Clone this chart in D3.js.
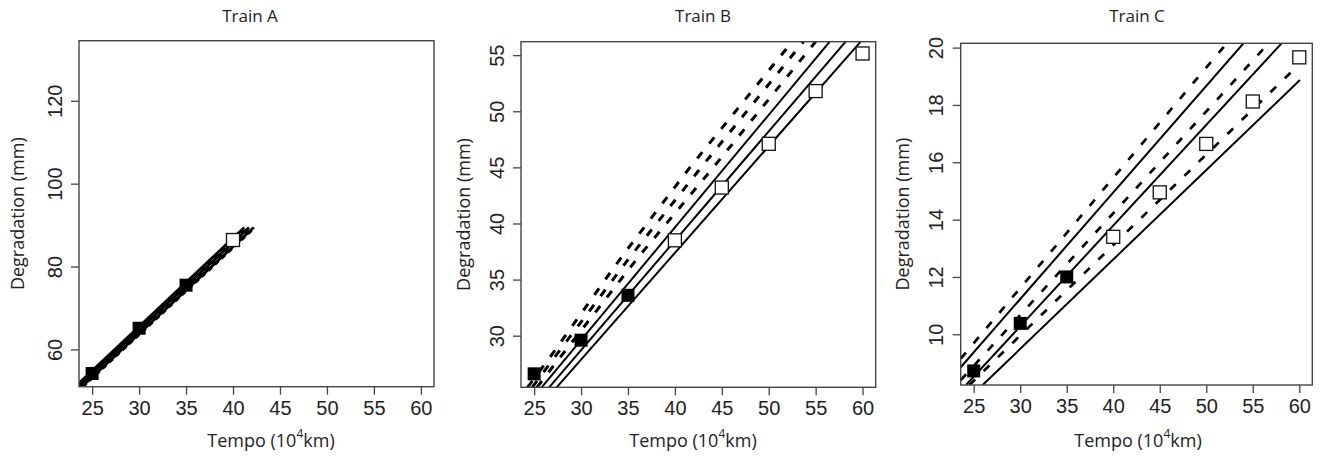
<!DOCTYPE html>
<html>
<head>
<meta charset="utf-8">
<script src="https://cdn.jsdelivr.net/npm/d3@7"></script>
<style>
  html, body { margin: 0; padding: 0; background: #fff; }
  svg { display: block; }
</style>
</head>
<body>
<svg id="svg" width="1325" height="459"></svg>
<script>
// shared x axis
const xTicks = [25, 30, 35, 40, 45, 50, 55, 60];
const xDomain = [23.6, 61.4];

// Train A
const trainAYTicks = [60, 80, 100, 120];
const trainAYDomain = [51, 134.5];
const trainAObserved = [[25, 54.2], [30, 65.1], [35, 75.5]];
const trainAPredicted = [[40, 86.4]];
const trainASolid = [
  [[23.2, 51], [41.2, 89.4]],
  [[23.5, 51], [41.7, 89.4]],
  [[23.9, 51], [42.2, 89.4]]
];
const trainADashed = [
  [[23.3, 51], [41.4, 89.4]],
  [[23.7, 51], [41.9, 89.4]],
  [[24.0, 51], [42.3, 89.4]]
];

// Train B
const trainBYTicks = [30, 35, 40, 45, 50, 55];
const trainBYDomain = [25.4, 56.2];
const trainBObserved = [[25, 26.6], [30, 29.6], [35, 33.6]];
const trainBPredicted = [[40, 38.5], [45, 43.2], [50, 47.1], [55, 51.8], [60, 55.15]];
const trainBSolid = [
  [[25.8, 25.4], [56.5, 56.2]],
  [[26.6, 25.4], [58.2, 56.2]],
  [[27.4, 25.4], [59.8, 56.2]]
];
const trainBDashed = [
  [[24.3, 25.4], [26.7, 28.1], [34.3, 37.0], [41.6, 45.0], [52.5, 56.2]],
  [[24.8, 25.4], [27.2, 28.1], [35.2, 37.0], [42.8, 45.0], [53.7, 56.2]],
  [[25.3, 25.4], [27.8, 28.1], [36.1, 37.0], [44.1, 45.0], [55.0, 56.2]]
];

// Train C
const trainCYTicks = [10, 12, 14, 16, 18, 20];
const trainCYDomain = [8.23, 20.15];
const trainCObserved = [[25, 8.72], [30, 10.38], [35, 12.0]];
const trainCPredicted = [[40, 13.4], [45, 14.95], [50, 16.64], [55, 18.12], [60, 19.66]];
const trainCSolid = [
  [[23.6, 8.85], [54.0, 20.15]],
  [[24.17, 8.23], [58.1, 20.15]],
  [[25.96, 8.23], [60.07, 18.87]]
];
const trainCDashed = [
  [[23.6, 9.15], [52.2, 20.15]],
  [[23.6, 8.4], [56.7, 20.15]],
  [[24.53, 8.23], [59.2, 19.17]]
];

const panels = [
  { title: "Train A", box: [79, 40.7, 355, 346], yDomain: trainAYDomain, yTicks: trainAYTicks,
    observed: trainAObserved, predicted: trainAPredicted, solid: trainASolid, dashed: trainADashed,
    lineWidth: 2.8, dashWidth: 3, dash: "5,4", titleX: 250, xLabelX: 271, yLabelOff: 62 },
  { title: "Train B", box: [521, 41.7, 354.7, 345.6], yDomain: trainBYDomain, yTicks: trainBYTicks,
    observed: trainBObserved, predicted: trainBPredicted, solid: trainBSolid, dashed: trainBDashed,
    lineWidth: 2, dashWidth: 3, dash: "8,11", titleX: 703, xLabelX: 693, yLabelOff: 58.5 },
  { title: "Train C", box: [960.7, 43.3, 351.6, 341.7], yDomain: trainCYDomain, yTicks: trainCYTicks,
    observed: trainCObserved, predicted: trainCPredicted, solid: trainCSolid, dashed: trainCDashed,
    lineWidth: 2, dashWidth: 2.7, dash: "8,12", titleX: 1137, xLabelX: 1138, yLabelOff: 58.3 }
];

const tickFont = "'Liberation Sans', Arial, sans-serif";
const labelFont = "'Open Sans', sans-serif";
const svg = d3.select("#svg");

panels.forEach((p, i) => {
  const [left, top, w, h] = p.box;
  const x = d3.scaleLinear().domain(xDomain).range([left, left + w]);
  const y = d3.scaleLinear().domain(p.yDomain).range([top + h, top]);
  const g = svg.append("g");

  const clipId = "clip" + i;
  svg.append("defs").append("clipPath").attr("id", clipId)
    .append("rect").attr("x", left).attr("y", top).attr("width", w).attr("height", h);

  const line = d3.line().x((d) => x(d[0])).y((d) => y(d[1]));
  const plot = g.append("g").attr("clip-path", `url(#${clipId})`);

  plot.selectAll("path.solid")
    .data(p.solid)
    .enter()
    .append("path")
    .attr("class", "solid")
    .attr("d", line)
    .attr("fill", "none")
    .attr("stroke", "#000")
    .attr("stroke-width", p.lineWidth);

  plot.selectAll("path.dashed")
    .data(p.dashed)
    .enter()
    .append("path")
    .attr("class", "dashed")
    .attr("d", line)
    .attr("fill", "none")
    .attr("stroke", "#000")
    .attr("stroke-width", p.dashWidth)
    .attr("stroke-dasharray", p.dash);

  const sq = 13;
  plot.selectAll("rect.obs")
    .data(p.observed)
    .enter()
    .append("rect")
    .attr("class", "obs")
    .attr("x", (d) => x(d[0]) - sq / 2)
    .attr("y", (d) => y(d[1]) - sq / 2)
    .attr("width", sq)
    .attr("height", sq)
    .attr("fill", "#000");

  plot.selectAll("rect.pred")
    .data(p.predicted)
    .enter()
    .append("rect")
    .attr("class", "pred")
    .attr("x", (d) => x(d[0]) - sq / 2)
    .attr("y", (d) => y(d[1]) - sq / 2)
    .attr("width", sq)
    .attr("height", sq)
    .attr("fill", "#fff")
    .attr("stroke", "#111")
    .attr("stroke-width", 1.3);

  // box
  g.append("rect")
    .attr("x", left).attr("y", top).attr("width", w).attr("height", h)
    .attr("fill", "none").attr("stroke", "#444").attr("stroke-width", 1.4);

  // x axis
  const xAxis = g.append("g")
    .attr("transform", `translate(0,${top + h})`)
    .call(d3.axisBottom(x).tickValues(xTicks).tickSize(8).tickFormat(d3.format("d")))
    .attr("font-family", tickFont)
    .attr("font-size", 20);
  xAxis.select(".domain").remove();
  xAxis.selectAll("line").attr("stroke", "#444").attr("stroke-width", 1.3);
  xAxis.selectAll("text")
    .attr("y", 14)
    .attr("fill", "#222");

  // y axis
  const yAxis = g.append("g")
    .attr("transform", `translate(${left},0)`)
    .call(d3.axisLeft(y).tickValues(p.yTicks).tickSize(8).tickFormat(d3.format("d")))
    .attr("font-family", tickFont)
    .attr("font-size", 20);
  yAxis.select(".domain").remove();
  yAxis.selectAll("line").attr("stroke", "#444").attr("stroke-width", 1.3);
  yAxis.selectAll("text")
    .attr("x", null).attr("dy", null)
    .attr("transform", "translate(-17.5,0) rotate(-90)")
    .attr("text-anchor", "middle")
    .attr("y", 0)
    .attr("fill", "#222");

  // title
  g.append("text")
    .attr("x", p.titleX)
    .attr("y", 22)
    .attr("text-anchor", "middle")
    .attr("font-family", labelFont)
    .attr("font-size", 17)
    .attr("fill", "#222")
    .text(p.title);

  // x label with superscript
  const xl = g.append("text")
    .attr("x", p.xLabelX)
    .attr("y", 447)
    .attr("text-anchor", "middle")
    .attr("font-family", labelFont)
    .attr("font-size", 18)
    .attr("fill", "#222");
  xl.append("tspan").text("Tempo (10");
  xl.append("tspan").attr("dy", -9).attr("font-size", 12).text("4");
  xl.append("tspan").attr("dy", 9).text("km)");

  // y label
  g.append("text")
    .attr("transform", `translate(${left - p.yLabelOff + 7},${top + h / 2}) rotate(-90)`)
    .attr("text-anchor", "middle")
    .attr("font-family", labelFont)
    .attr("font-size", 18)
    .attr("fill", "#222")
    .text("Degradation (mm)");
});
</script>
</body>
</html>
